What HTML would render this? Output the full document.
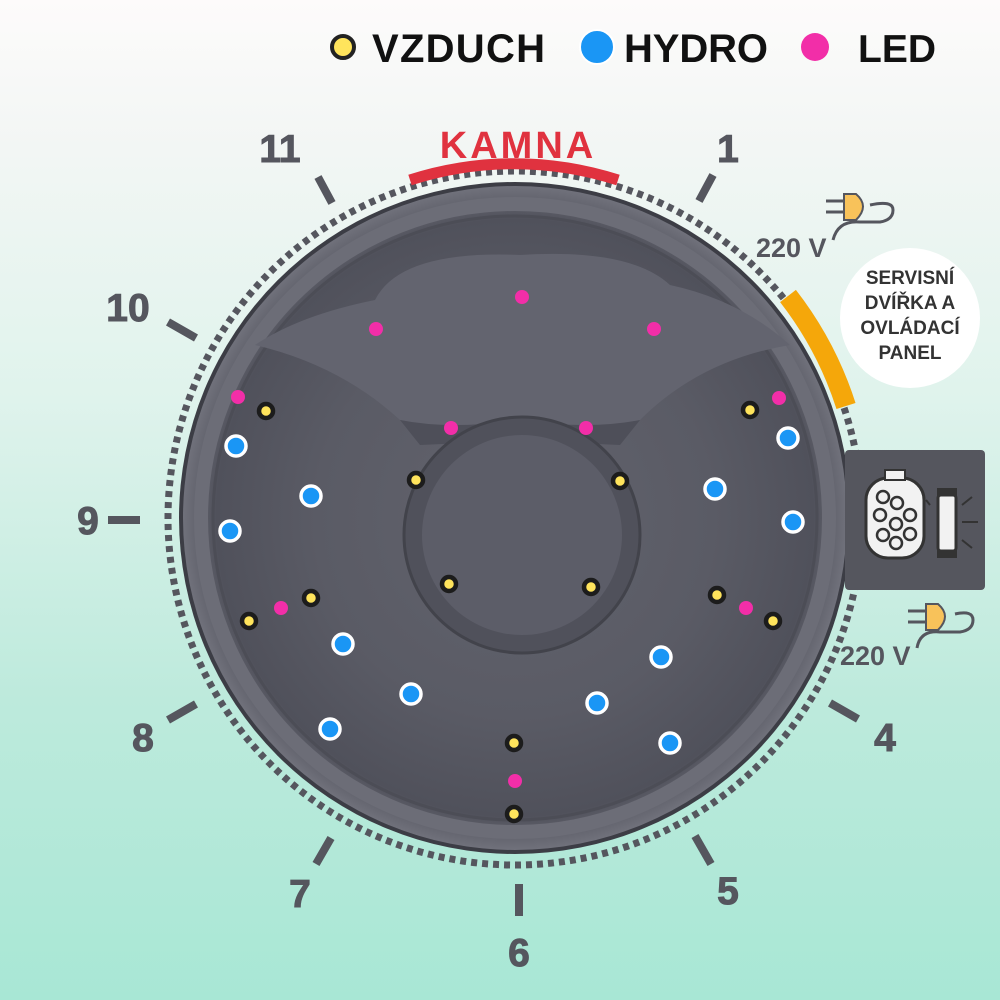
<!DOCTYPE html>
<html><head><meta charset="utf-8"><style>
html,body{margin:0;padding:0}
body{width:1000px;height:1000px;overflow:hidden;background:linear-gradient(#fdfbfb 0%,#f2f6f4 15%,#dff3ec 40%,#bdeadc 70%,#a8e7d5 100%);font-family:"Liberation Sans",sans-serif}
</style></head><body>
<svg width="1000" height="1000" viewBox="0 0 1000 1000" xmlns="http://www.w3.org/2000/svg" style="position:absolute;left:0;top:0">
<defs>
<radialGradient id="tub" cx="0.5" cy="0.5" r="0.5">
<stop offset="0" stop-color="#62636d"/><stop offset="0.6" stop-color="#5a5b65"/><stop offset="0.9" stop-color="#50515b"/><stop offset="1" stop-color="#70717b"/>
</radialGradient>
</defs>
<!-- legend -->
<circle cx="343" cy="47" r="11" fill="#ffe45c" stroke="#222" stroke-width="4"/>
<text x="372" y="62" font-size="40" font-weight="bold" fill="#111" textLength="173">VZDUCH</text>
<circle cx="597" cy="47" r="17" fill="#1a96f5" stroke="#fff" stroke-width="2"/>
<text x="624" y="62" font-size="40" font-weight="bold" fill="#111" textLength="144">HYDRO</text>
<circle cx="815" cy="47" r="14" fill="#f22ea8"/>
<text x="858" y="62" font-size="39" font-weight="bold" fill="#111">LED</text>

<!-- dotted ring -->
<circle cx="515" cy="518" r="347" fill="none" stroke="#55565e" stroke-width="7" stroke-dasharray="6 5"/>
<!-- tub -->
<circle cx="515" cy="518" r="336" fill="#3c3d45"/>
<circle cx="515" cy="518" r="332" fill="url(#tub)"/>
<circle cx="515" cy="518" r="314" fill="none" stroke="#6c6d77" stroke-width="14"/>
<circle cx="515" cy="518" r="302" fill="none" stroke="#4c4d56" stroke-width="3"/>
<!-- top seat area -->
<path d="M255 345 Q300 315 375 300 Q400 250 520 255 Q630 248 670 285 Q740 300 790 345 Q700 360 640 420 L590 430 Q520 420 450 430 L400 420 Q340 365 255 345Z" fill="#63646f"/>
<path d="M400 420 Q450 430 520 420 Q590 430 640 420 L620 445 Q520 440 420 445Z" fill="#4e4f59"/>
<!-- inner bowl -->
<circle cx="522" cy="535" r="118" fill="#50515b"/>
<circle cx="522" cy="535" r="100" fill="#5c5d68"/>
<circle cx="522" cy="535" r="118" fill="none" stroke="#42434b" stroke-width="3"/>
<!-- kamna arc -->
<path d="M410 180 A340 340 0 0 1 618 180" fill="none" stroke="#e0323f" stroke-width="11"/>
<text x="518" y="158" font-size="38" font-weight="bold" fill="#e0323f" text-anchor="middle" letter-spacing="3">KAMNA</text>
<!-- orange arc -->
<path d="M788 296 A356 356 0 0 1 846 406" fill="none" stroke="#f5a70a" stroke-width="20"/>

<!-- ticks -->
<g stroke="#55565e" stroke-width="8">
<line x1="318" y1="177" x2="332" y2="203"/>
<line x1="713" y1="175" x2="699" y2="201"/>
<line x1="168" y1="322" x2="196" y2="338"/>
<line x1="108" y1="520" x2="140" y2="520"/>
<line x1="168" y1="720" x2="196" y2="704"/>
<line x1="316" y1="864" x2="331" y2="838"/>
<line x1="519" y1="884" x2="519" y2="916"/>
<line x1="695" y1="836" x2="711" y2="864"/>
<line x1="830" y1="703" x2="858" y2="719"/>
</g>
<g font-size="39" font-weight="bold" fill="#55565e" text-anchor="middle" stroke="#55565e" stroke-width="1">
<text x="280" y="162">11</text>
<text x="728" y="162">1</text>
<text x="128" y="321">10</text>
<text x="88" y="534">9</text>
<text x="143" y="751">8</text>
<text x="300" y="907">7</text>
<text x="519" y="966">6</text>
<text x="728" y="904">5</text>
<text x="885" y="751">4</text>
</g>

<!-- service bubble -->
<circle cx="910" cy="318" r="70" fill="#fff"/>
<g font-size="19" font-weight="bold" fill="#333" text-anchor="middle">
<text x="910" y="284">SERVISNÍ</text>
<text x="910" y="309">DVÍŘKA A</text>
<text x="910" y="334">OVLÁDACÍ</text>
<text x="910" y="359">PANEL</text>
</g>
<!-- 220V -->
<text x="756" y="257" font-size="27" fill="#55565e" font-weight="bold">220 V</text>
<text x="840" y="665" font-size="27" fill="#55565e" font-weight="bold">220 V</text>
<g fill="none" stroke="#55565e" stroke-width="3">
<path d="M833 240 Q838 220 860 222 L880 222 Q893 220 893 210 Q893 200 870 205"/>
<path d="M917 648 Q920 630 940 632 L960 632 Q973 630 973 620 Q973 610 955 614"/>
<line x1="826" y1="201" x2="844" y2="201"/><line x1="826" y1="212" x2="844" y2="212"/>
<line x1="908" y1="611" x2="926" y2="611"/><line x1="908" y1="622" x2="926" y2="622"/>
</g>
<path d="M844 194 L856 194 Q870 206 856 220 L844 220Z" fill="#f8c25a" stroke="#55565e" stroke-width="2"/>
<path d="M926 604 L938 604 Q952 616 938 630 L926 630Z" fill="#f8c25a" stroke="#55565e" stroke-width="2"/>

<!-- right box -->
<rect x="845" y="450" width="140" height="140" rx="4" fill="#55565e"/>
<rect x="866" y="478" width="58" height="80" rx="22" fill="#f2f2f2" stroke="#333" stroke-width="3"/>
<rect x="885" y="470" width="20" height="10" fill="#f2f2f2" stroke="#333" stroke-width="2"/>
<g fill="#f2f2f2" stroke="#333" stroke-width="2.5">
<circle cx="883" cy="497" r="6"/><circle cx="897" cy="503" r="6"/><circle cx="880" cy="515" r="6"/><circle cx="896" cy="524" r="6"/><circle cx="910" cy="515" r="6"/><circle cx="883" cy="535" r="6"/><circle cx="910" cy="534" r="6"/><circle cx="896" cy="543" r="6"/>
</g>
<rect x="938" y="495" width="18" height="56" rx="3" fill="#f2f2f2" stroke="#333" stroke-width="3"/>
<rect x="937" y="488" width="20" height="8" fill="#333"/><rect x="937" y="550" width="20" height="8" fill="#333"/>
<g stroke="#333" stroke-width="2"><line x1="962" y1="505" x2="972" y2="497"/><line x1="962" y1="522" x2="978" y2="522"/><line x1="962" y1="540" x2="972" y2="548"/><line x1="930" y1="505" x2="926" y2="500"/></g>

<!-- dots -->
<g fill="#ffe45c" stroke="#1c1c1c" stroke-width="4.5">
<circle cx="266" cy="411" r="7"/><circle cx="750" cy="410" r="7"/><circle cx="416" cy="480" r="7"/><circle cx="620" cy="481" r="7"/><circle cx="449" cy="584" r="7"/><circle cx="591" cy="587" r="7"/><circle cx="311" cy="598" r="7"/><circle cx="717" cy="595" r="7"/><circle cx="249" cy="621" r="7"/><circle cx="773" cy="621" r="7"/><circle cx="514" cy="743" r="7"/><circle cx="514" cy="814" r="7"/>
</g>
<g fill="#1a96f5" stroke="#fff" stroke-width="3.5">
<circle cx="236" cy="446" r="10"/><circle cx="788" cy="438" r="10"/><circle cx="311" cy="496" r="10"/><circle cx="715" cy="489" r="10"/><circle cx="230" cy="531" r="10"/><circle cx="793" cy="522" r="10"/><circle cx="343" cy="644" r="10"/><circle cx="661" cy="657" r="10"/><circle cx="411" cy="694" r="10"/><circle cx="597" cy="703" r="10"/><circle cx="330" cy="729" r="10"/><circle cx="670" cy="743" r="10"/>
</g>
<g fill="#f22ea8">
<circle cx="522" cy="297" r="7"/><circle cx="376" cy="329" r="7"/><circle cx="654" cy="329" r="7"/><circle cx="238" cy="397" r="7"/><circle cx="779" cy="398" r="7"/><circle cx="451" cy="428" r="7"/><circle cx="586" cy="428" r="7"/><circle cx="281" cy="608" r="7"/><circle cx="746" cy="608" r="7"/><circle cx="515" cy="781" r="7"/>
</g>
</svg>
</body></html>
